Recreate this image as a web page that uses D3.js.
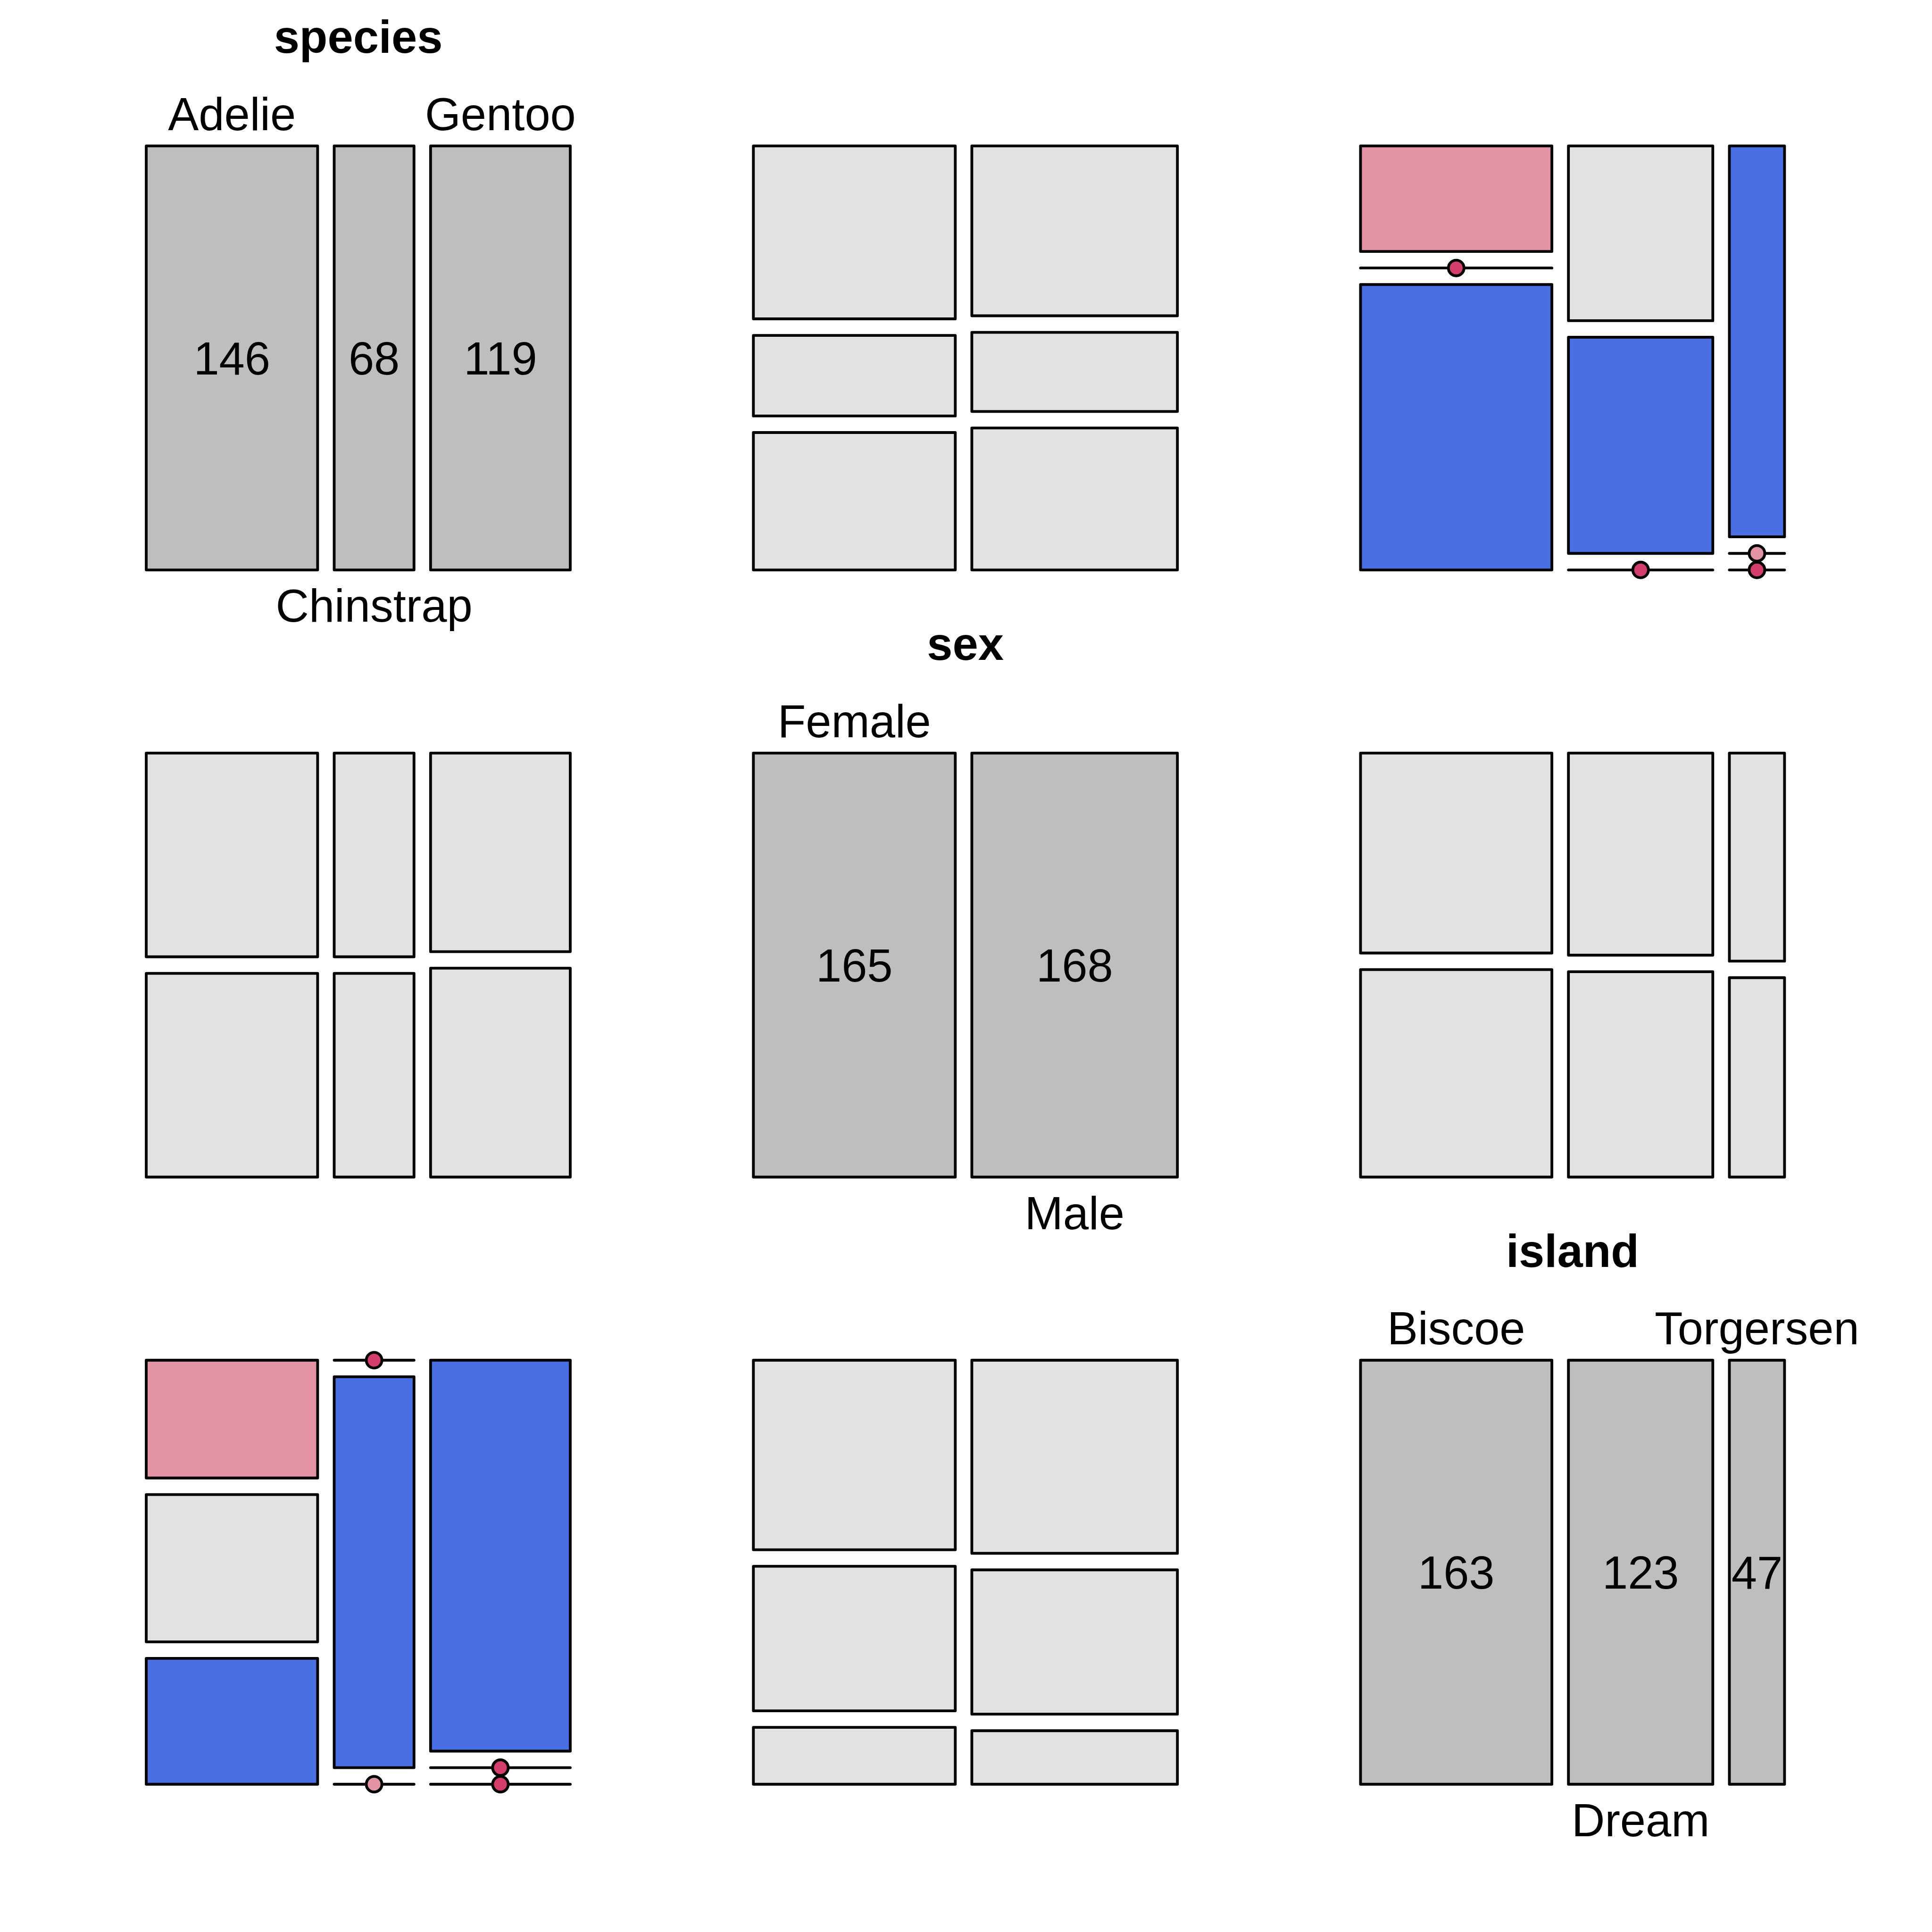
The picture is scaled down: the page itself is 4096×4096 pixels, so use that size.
<!DOCTYPE html>
<html><head><meta charset="utf-8">
<script src="https://cdn.jsdelivr.net/npm/d3@7"></script>
<style>html,body{margin:0;padding:0;background:#fff;}svg{display:block;}</style>
</head><body>
<svg id="chart" width="4096" height="4096"></svg>
<script>
// ---- data ----
const varNames = ["species", "sex", "island"];
const speciesLevels = ["Adelie", "Chinstrap", "Gentoo"];
const sexLevels = ["Female", "Male"];
const islandLevels = ["Biscoe", "Dream", "Torgersen"];
const speciesTotals = [146, 68, 119];
const sexTotals = [165, 168];
const islandTotals = [163, 123, 47];
// [species][sex]
const speciesSexCounts = [[73, 73], [34, 34], [58, 61]];
// [species][island]
const speciesIslandCounts = [[44, 55, 47], [0, 68, 0], [119, 0, 0]];
// [sex][island]
const sexIslandCounts = [[80, 61, 24], [83, 62, 23]];

// ---- layout (reference pixels, scaled by 0.975) ----
const SCALE = 0.975;
const P0X = 318, P0Y = 317.3, PSTEP = 1320.2, PSIZE = 922, GAP = 36;
const FONT = "'Liberation Sans', Arial, Helvetica, sans-serif";
const FS = 100;
const SW = 6;

const levels = [speciesLevels, sexLevels, islandLevels];
const totals = [speciesTotals, sexTotals, islandTotals];
function joint(i, j, a, b) {
  const key = i + "" + j;
  if (key === "01") return speciesSexCounts[a][b];
  if (key === "10") return speciesSexCounts[b][a];
  if (key === "02") return speciesIslandCounts[a][b];
  if (key === "20") return speciesIslandCounts[b][a];
  if (key === "12") return sexIslandCounts[a][b];
  if (key === "21") return sexIslandCounts[b][a];
  return 0;
}
function shade(r) {
  if (r > 4) return "#4A6FE3";
  if (r > 2) return "#9DA8E2";
  if (r < -4) return "#D33F6A";
  if (r < -2) return "#E293A4";
  return "#E2E2E2";
}

const svg = d3.select("#chart");
const root = svg.append("g").attr("transform", `scale(${SCALE})`);

function panelOrigin(row, col) {
  return [P0X + col * PSTEP, P0Y + row * PSTEP];
}

for (let i = 0; i < 3; i++) {
  for (let j = 0; j < 3; j++) {
    const [ox, oy] = panelOrigin(i, j);
    const g = root.append("g").attr("transform", `translate(${ox},${oy})`);
    if (i === j) {
      const tot = totals[i];
      const N = d3.sum(tot);
      const n = tot.length;
      const x = d3.scaleLinear().domain([0, N]).range([0, PSIZE - GAP * (n - 1)]);
      const cum = d3.cumsum(tot);
      const bars = tot.map((v, k) => ({
        v, k, name: levels[i][k],
        x0: x(cum[k] - v) + GAP * k,
        w: x(v)
      }));
      g.selectAll("rect").data(bars).join("rect")
        .attr("x", d => d.x0).attr("y", 0)
        .attr("width", d => d.w).attr("height", PSIZE)
        .attr("fill", "#BEBEBE").attr("stroke", "#000")
        .attr("stroke-width", SW).attr("stroke-linejoin", "round");
      g.selectAll("text.count").data(bars).join("text").attr("class", "count")
        .attr("x", d => d.x0 + d.w / 2).attr("y", PSIZE / 2)
        .attr("dy", "0.358em").attr("text-anchor", "middle")
        .attr("font-family", FONT).attr("font-size", FS)
        .text(d => d.v);
      g.selectAll("text.lev").data(bars).join("text").attr("class", "lev")
        .attr("x", d => d.x0 + d.w / 2)
        .attr("y", d => d.k % 2 === 0 ? -34.5 : PSIZE + 113)
        .attr("text-anchor", "middle")
        .attr("font-family", FONT).attr("font-size", FS)
        .text(d => d.name);
      g.append("text")
        .attr("x", PSIZE / 2).attr("y", -202.5)
        .attr("text-anchor", "middle")
        .attr("font-family", FONT).attr("font-size", FS).attr("font-weight", "bold")
        .text(varNames[i]);
    } else {
      // columns: var j ; rows within column: var i
      const na = levels[i].length, nb = levels[j].length;
      const colTot = d3.range(nb).map(b => d3.sum(d3.range(na), a => joint(i, j, a, b)));
      const rowTot = d3.range(na).map(a => d3.sum(d3.range(nb), b => joint(i, j, a, b)));
      const N = d3.sum(colTot);
      const x = d3.scaleLinear().domain([0, N]).range([0, PSIZE - GAP * (nb - 1)]);
      const cumC = d3.cumsum(colTot);
      const cells = [];
      for (let b = 0; b < nb; b++) {
        const cx0 = x(cumC[b] - colTot[b]) + GAP * b;
        const cw = x(colTot[b]);
        const y = d3.scaleLinear().domain([0, colTot[b]]).range([0, PSIZE - GAP * (na - 1)]);
        let acc = 0;
        for (let a = 0; a < na; a++) {
          const obs = joint(i, j, a, b);
          const exp = rowTot[a] * colTot[b] / N;
          const res = (obs - exp) / Math.sqrt(exp);
          cells.push({ x: cx0, w: cw, y: y(acc) + GAP * a, h: y(obs), obs, fill: shade(res) });
          acc += obs;
        }
      }
      const boxes = cells.filter(d => d.obs > 0);
      const zeros = cells.filter(d => d.obs === 0);
      g.selectAll("rect").data(boxes).join("rect")
        .attr("x", d => d.x).attr("y", d => d.y)
        .attr("width", d => d.w).attr("height", d => d.h)
        .attr("fill", d => d.fill).attr("stroke", "#000")
        .attr("stroke-width", SW).attr("stroke-linejoin", "round");
      g.selectAll("line").data(zeros).join("line")
        .attr("x1", d => d.x).attr("x2", d => d.x + d.w)
        .attr("y1", d => d.y).attr("y2", d => d.y)
        .attr("stroke", "#000").attr("stroke-width", SW).attr("stroke-linecap", "round");
      g.selectAll("circle").data(zeros).join("circle")
        .attr("cx", d => d.x + d.w / 2).attr("cy", d => d.y).attr("r", 17)
        .attr("fill", d => d.fill).attr("stroke", "#000").attr("stroke-width", SW);
    }
  }
}
</script>
</body></html>
